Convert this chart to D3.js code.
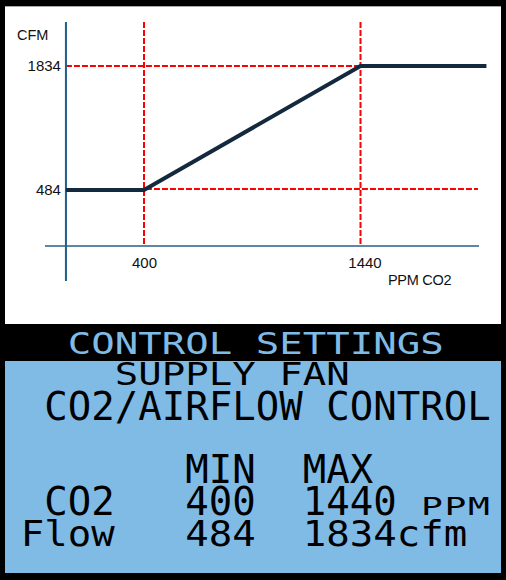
<!DOCTYPE html>
<html>
<head>
<meta charset="utf-8">
<script src="https://cdn.jsdelivr.net/npm/d3@7"></script>
<style>
  html, body { margin: 0; padding: 0; background: #000; }
  svg { display: block; }
</style>
</head>
<body>
<svg id="chart" width="506" height="580"></svg>
<script>
// ---- data ----
const co2Points = [25, 400, 1440, 2045];        // ppm along the curve
const cfmPoints = [484, 484, 1834, 1834];       // airflow along the curve
const co2Ticks = [400, 1440];
const cfmTicks = [484, 1834];
const xTitle = "PPM CO2";
const yTitle = "CFM";

const lcdHeader = "CONTROL SETTINGS";
const lcdTitle1 = "SUPPLY FAN";
const lcdTitle2 = "CO2/AIRFLOW CONTROL";
const lcdColHeads = ["MIN", "MAX"];
const lcdRowLabels = ["CO2", "Flow"];
const lcdMinValues = ["400", "484"];
const lcdMaxValues = ["1440", "1834cfm"];
const lcdUnitCO2 = "PPM";

// ---- layout ----
const svg = d3.select("#chart");
const W = 506, H = 580;
svg.append("rect").attr("width", W).attr("height", H).attr("fill", "#000");
svg.append("rect").attr("x", 5).attr("y", 6).attr("width", 496).attr("height", 318).attr("fill", "#fff");
svg.append("rect").attr("x", 5).attr("y", 6).attr("width", 496).attr("height", 1).attr("fill", "#a8a8a8");

const x = d3.scaleLinear().domain([co2Ticks[0], co2Ticks[1]]).range([144, 360.5]);
const y = d3.scaleLinear().domain([cfmTicks[0], cfmTicks[1]]).range([190, 66]);

const originX = x(co2Points[0]);
const axisY = 246;
const topY = 22;

const chartFont = "'Liberation Sans', Arial, sans-serif";

// red guide lines
const red = svg.append("g").attr("stroke", "#ff0000").attr("stroke-width", 2)
  .attr("stroke-dasharray", "6,2").attr("fill", "none");
co2Ticks.forEach(v => {
  red.append("line").attr("x1", x(v)).attr("x2", x(v)).attr("y1", topY).attr("y2", axisY);
});
red.append("line").attr("x1", originX).attr("x2", x(co2Ticks[1]))
  .attr("y1", y(cfmTicks[1])).attr("y2", y(cfmTicks[1]));
red.append("line").attr("x1", originX).attr("x2", 478)
  .attr("y1", y(cfmTicks[0]) - 1).attr("y2", y(cfmTicks[0]) - 1);

// axis lines
svg.append("line").attr("x1", originX).attr("x2", originX).attr("y1", topY).attr("y2", 281)
  .attr("stroke", "#1c5f8b").attr("stroke-width", 2);
svg.append("line").attr("x1", 45).attr("x2", 479).attr("y1", axisY).attr("y2", axisY)
  .attr("stroke", "#2b5f82").attr("stroke-width", 1.5);

// tick labels via axes
const yAxis = d3.axisLeft(y).tickValues(cfmTicks).tickSize(0).tickPadding(5).tickFormat(d3.format("d"));
const gy = svg.append("g").attr("transform", `translate(${originX},0)`).call(yAxis);
gy.select(".domain").remove();
gy.selectAll("text").attr("font-family", chartFont).attr("font-size", 15).attr("fill", "#111");

const xAxis = d3.axisBottom(x).tickValues(co2Ticks).tickSize(0).tickPadding(11).tickFormat(d3.format("d"));
const gx = svg.append("g").attr("transform", `translate(0,${axisY})`).call(xAxis);
gx.select(".domain").remove();
gx.selectAll("text").attr("font-family", chartFont).attr("font-size", 15).attr("fill", "#111")
  .attr("dx", (d, i) => i === 1 ? 4 : 0);

svg.append("text").attr("x", 17).attr("y", 40).attr("font-family", chartFont)
  .attr("font-size", 14.5).attr("fill", "#111").text(yTitle);
svg.append("text").attr("x", 388).attr("y", 285).attr("font-family", chartFont)
  .attr("font-size", 14.5).attr("fill", "#111").attr("letter-spacing", -0.3).text(xTitle);

// data line
const pts = co2Points.map((c, i) => [x(c), y(cfmPoints[i])]);
svg.append("path").attr("d", d3.line()(pts)).attr("fill", "none")
  .attr("stroke", "#13293d").attr("stroke-width", 4).attr("stroke-linejoin", "miter");

// ---- LCD panel ----
svg.append("rect").attr("x", 5).attr("y", 361).attr("width", 496).attr("height", 212).attr("fill", "#80bbe6");

const lcdFont = "'DejaVu Sans Mono', monospace";
const cellX0 = 22, cellW = 23.5, glyphC = 10.5;

function lcd(text, col, baseline, sy, color, size, sx) {
  text.split("").forEach((ch, i) => {
    if (ch === " ") return;
    const cx = cellX0 + (col + i) * cellW + glyphC;
    svg.append("g")
      .attr("transform", `translate(${cx},${baseline}) scale(${sx || 1},${sy})`)
      .append("text")
      .attr("x", 0)
      .attr("y", 0)
      .attr("text-anchor", "middle")
      .attr("font-family", lcdFont)
      .attr("font-size", size || 39)
      .attr("fill", color)
      .text(ch);
  });
}

lcd(lcdHeader, 2, 354, 0.78, "#80bbe6");
lcd(lcdTitle1, 4, 385, 0.82, "#000");
lcd(lcdTitle2, 1, 420, 1, "#000");
lcd(lcdColHeads[0], 7, 483, 1, "#000");
lcd(lcdColHeads[1], 12, 483, 1, "#000");
lcd(lcdRowLabels[0], 1, 515, 1, "#000");
lcd(lcdMinValues[0], 7, 515, 1, "#000");
lcd(lcdMaxValues[0], 12, 515, 1, "#000");
lcd(lcdUnitCO2, 17, 515, 1, "#000", 25, 1.45);
lcd(lcdRowLabels[1], 0, 546, 0.93, "#000");
lcd(lcdMinValues[1], 7, 546, 0.93, "#000");
lcd(lcdMaxValues[1], 12, 546, 0.93, "#000");
</script>
</body>
</html>
